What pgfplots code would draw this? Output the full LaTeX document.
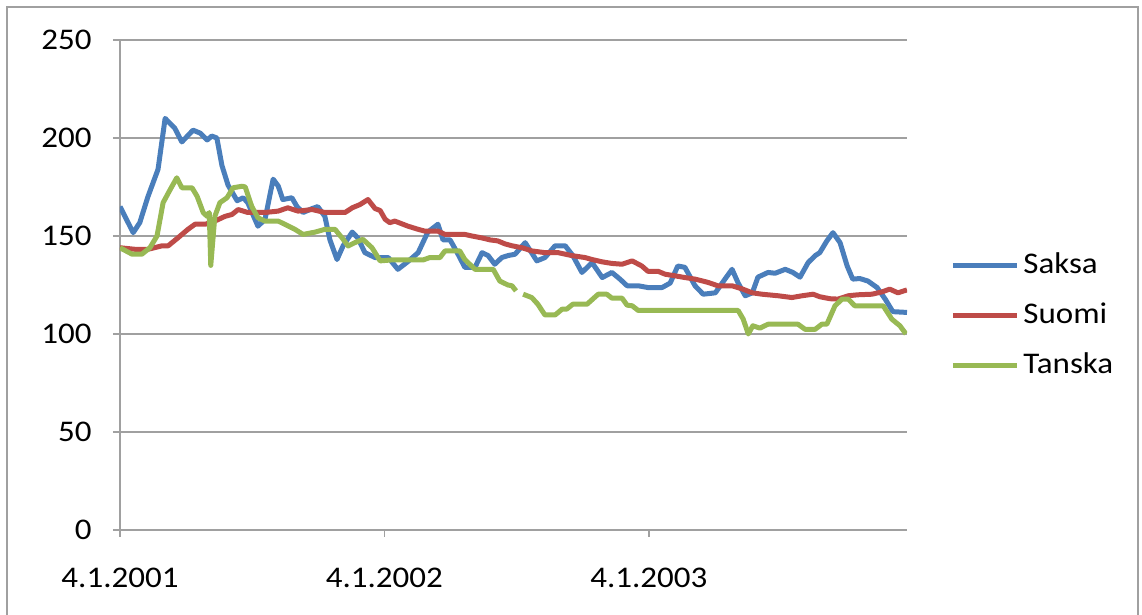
\documentclass[border=0pt]{standalone}
\usepackage{pgfplots}
\pgfplotsset{compat=1.18}
\usepackage{fontspec}
\setmainfont{Carlito}[FakeStretch=1.1]
\definecolor{saksa}{HTML}{4A7EBB}
\definecolor{suomi}{HTML}{BE4B48}
\definecolor{tanska}{HTML}{98B954}
\definecolor{gridc}{HTML}{A0A0A0}
\begin{document}
\fontsize{15pt}{18pt}\selectfont
\begin{tikzpicture}
\path[use as bounding box] (-60pt,-42.5pt) rectangle (511pt,265pt);
\draw[gridc, line width=0.8pt] (-56.5pt,-50pt) -- (-56.5pt,261.5pt) -- (509pt,261.5pt) -- (509pt,-50pt);
\begin{axis}[
    at={(0,0)}, anchor=south west,
    scale only axis,
    width=393.5pt, height=245pt,
    xmin=0, xmax=155.2,
    ymin=0, ymax=250,
    ytick={0,50,...,250},
    xtick={0,52.14,104.29},
    xticklabels={4.1.2001,4.1.2002,4.1.2003},
    axis lines*=left,
    axis line style={gridc, line width=0.8pt},
    ymajorgrids,
    grid style={gridc, line width=0.8pt},
    tick align=outside,
    major tick length=3.5pt,
    tick style={gridc, line width=0.8pt},
    /pgf/number format/assume math mode=true,
    ticklabel style={font=\fontsize{15pt}{18pt}\selectfont, text=black},
    xticklabel style={yshift=-10.5pt},
    yticklabel style={xshift=-5.5pt},
    unbounded coords=jump,
    legend style={draw=none, fill=none, at={(1.047,0.438)}, anchor=west,
        font=\fontsize{15pt}{18pt}\selectfont, row sep=8.5pt,
        legend cell align=left},
    legend image code/.code={\draw[#1] (0pt,0pt) -- (32pt,0pt);},
    every axis plot/.append style={line width=2.5pt, line join=round, no marks},
]
\addplot[saksa] coordinates {
(0,165) (2.6,151.7) (3.9,156.8) (5.5,170) (7.5,184) (8.9,210) (10.8,205) (12.2,198)
(14.4,204) (15.8,202.5) (17.2,199) (18.1,201) (19.1,200) (20.1,186) (21.3,176) (23.1,168)
(24.3,169.5) (25.2,167) (27.2,155) (28.6,158.5) (30.2,179) (31.2,175.5) (32.1,168.6)
(33.9,169.5) (34.9,165) (36.1,162) (37.9,164) (39.0,165) (40.4,160) (41.4,148) (42.8,138)
(44.0,145) (45.8,152) (46.9,149) (48.3,141.5) (50.3,139) (52.9,139) (54.8,133) (56.8,137)
(58.8,141.5) (60.7,152) (62.7,156) (63.7,148) (65.1,148) (66.5,141.5) (68.0,134) (70.0,134)
(71.4,141.5) (72.6,140) (73.9,135.6) (75.3,139) (76.5,140) (77.9,140.7) (79.9,146.6)
(82.2,137.3) (83.8,139) (85.8,145) (87.8,145) (89.3,140) (91.1,131.4) (93.1,136.4)
(95.1,128.8) (97.0,131.4) (98.6,128) (100.0,124.6) (102.2,124.6) (104.1,123.7) (106.9,123.7)
(108.5,126) (110.0,134.7) (111.4,134) (113.4,124.6) (115.0,120.3) (117.4,121) (119.3,128)
(120.7,133) (121.9,126) (123.3,119.5) (124.7,121) (125.8,129) (127.8,131.4) (129.2,131)
(131.2,133) (132.7,131.4) (134.1,129) (135.7,136.4) (137.1,140) (138.0,141.5) (139.4,147.5)
(140.6,151.7) (142.0,146.6) (143.4,134.7) (144.5,128) (145.9,128.3) (147.5,127) (149.3,123.7)
(150.9,117.8) (152.4,111.4) (155.2,111)
};
\addlegendentry{Saksa}
\addplot[suomi] coordinates {
(0,144) (3.0,143.2) (5.5,143.2) (8.3,145) (9.5,145) (11.4,149) (13.4,153.4) (14.8,156)
(16.8,156) (18.7,157.6) (20.7,160) (22.1,161) (23.3,163.5) (25.2,162) (28.6,162) (31.2,162.7)
(33.1,164.4) (35.1,162.7) (37.9,163.5) (40.4,162) (44.4,162) (45.8,164.4) (47.3,166)
(48.9,168.6) (50.3,164) (51.3,163) (52.3,158.5) (53.2,156.8) (54.2,157.6) (56.8,155)
(58.8,153.4) (60.1,152.5) (62.7,152.5) (64.1,150.8) (66.1,150.8) (68.0,150.8) (69.4,150)
(71.4,149) (73.0,148) (74.5,147.5) (75.9,146) (77.3,145) (79.3,144) (81.2,142.4) (83.8,141.5)
(86.4,141.5) (89.1,140) (91.7,139) (93.1,138) (95.1,136.8) (97.0,136) (99.0,135.6)
(101.0,137.3) (102.9,134.7) (104.1,132) (106.1,132) (107.5,130.5) (109.4,129.7) (111.4,128.8)
(113.4,128) (114.8,127.1) (116.0,126.3) (117.9,124.6) (120.7,124.6) (122.7,123) (124.7,121)
(126.6,120.3) (129.8,119.5) (132.5,118.6) (134.5,119.5) (136.7,120.3) (138.0,119) (140.0,118)
(141.6,117.8) (143.6,119.5) (145.5,120) (148.3,120.3) (150.3,121.5) (151.8,122.9) (153.4,121)
(155.2,122.5)
};
\addlegendentry{Suomi}
\addplot[tanska] coordinates {
(0,144) (2.4,140.7) (4.3,140.7) (5.9,144) (7.3,150) (8.5,167) (9.9,173.7) (11.2,179.7)
(12.2,174.6) (14.2,174.6) (15.2,170.3) (16.4,162) (17.2,160) (17.6,162) (17.9,135) (18.7,160)
(19.7,167) (21.1,169.5) (22.3,174.6) (24.1,175.4) (24.7,175) (25.6,168) (26.0,165) (27.2,159.3)
(28.6,157.6) (31.2,157.6) (32.5,156) (34.5,153.4) (36.1,150.8) (38.5,152) (40.4,153.4)
(42.4,153.4) (43.8,149) (45.0,144.9) (46.3,146.6) (47.9,148.3) (49.7,144) (51.3,137.3)
(53.6,137.8) (56.8,137.8) (59.8,137.8) (61.1,139) (63.1,139) (64.1,142.4) (67.0,142.4)
(68.0,138) (70.0,133) (73.6,133) (74.9,127) (76.5,125) (77.3,124.6) (78.1,122)
(78.8,nan)
(79.5,120.3) (81.2,118.6) (82.4,115.2) (83.8,109.7) (85.8,109.7) (87.2,112.7) (88.1,112.7)
(89.3,115.2) (92.1,115.2) (94.3,120.3) (96.0,120.3) (97.0,118.3) (99.0,118.3) (100.0,114.7)
(101.0,114.4) (102.2,112) (108.1,112) (114.8,112) (121.9,112) (122.9,107.6) (123.9,100)
(124.8,104.2) (126.2,103) (127.8,105) (133.7,105) (135.1,102.4) (137.1,102.4) (138.4,105)
(139.4,105) (141.0,114.4) (142.4,117.8) (143.6,117.8) (144.9,114.4) (150.5,114.4)
(152.2,107.6) (153.8,104.2) (155.0,100)
};
\addlegendentry{Tanska}
\end{axis}
\end{tikzpicture}
\end{document}
